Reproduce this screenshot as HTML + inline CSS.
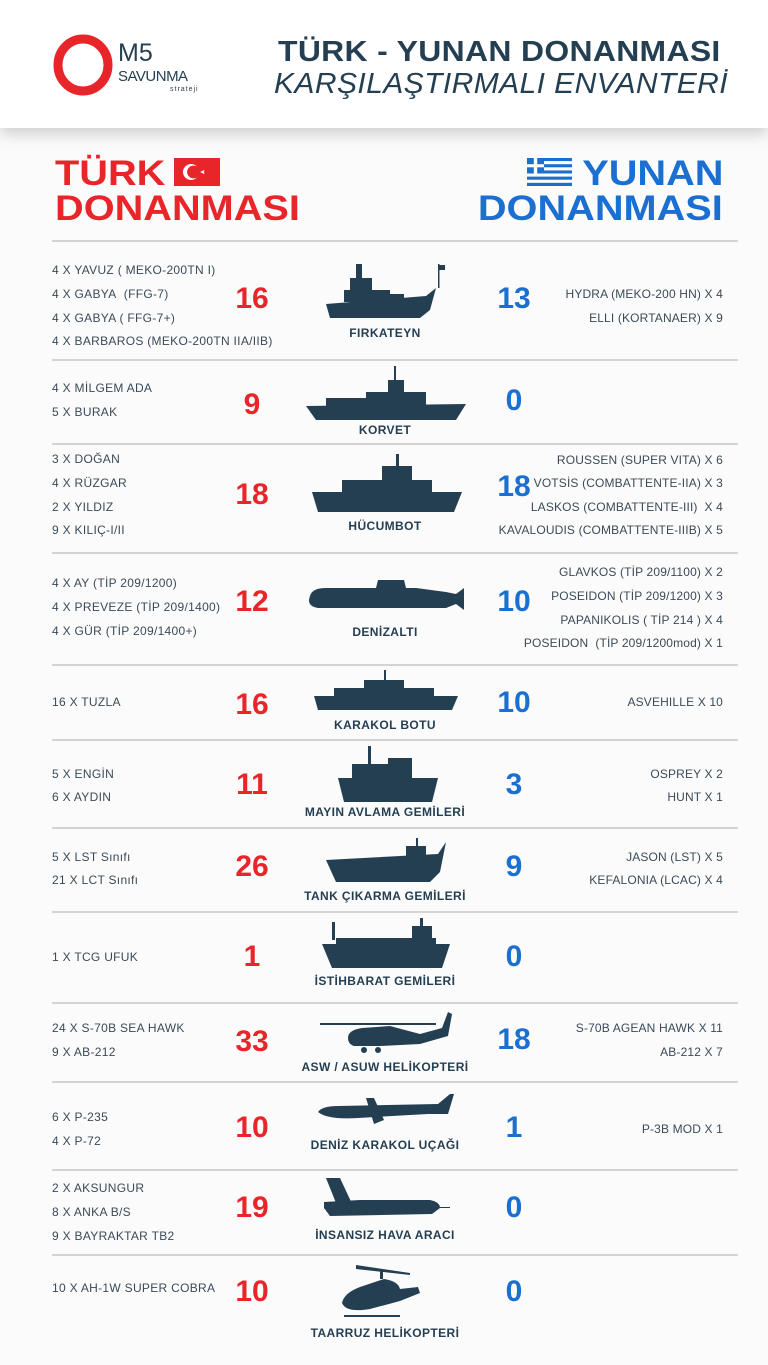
<!DOCTYPE html>
<html><head><meta charset="utf-8"><style>
*{margin:0;padding:0;box-sizing:border-box}
body{width:768px;height:1365px;position:relative;background:#fbfbfb;font-family:"Liberation Sans",sans-serif;overflow:hidden;color:#2c3f50}
.hdr{position:absolute;left:0;top:0;width:768px;height:128px;background:#fff;box-shadow:0 6px 14px rgba(0,0,0,.18)}
.a{position:absolute;white-space:nowrap}
.l{position:absolute;left:52px;font-size:12px;line-height:16px;color:#3a4a58;letter-spacing:0.3px;white-space:nowrap}
.r{position:absolute;right:45px;font-size:12px;line-height:16px;color:#3a4a58;text-align:right;letter-spacing:0.15px;white-space:nowrap}
.nr{position:absolute;width:60px;left:222px;text-align:center;font-size:30px;font-weight:bold;color:#e8262a;line-height:30px}
.nb{position:absolute;width:60px;left:484px;text-align:center;font-size:30px;font-weight:bold;color:#1a6fd1;line-height:30px}
.lab{position:absolute;left:265px;width:240px;text-align:center;font-size:12px;font-weight:bold;color:#253f52;line-height:14px;letter-spacing:0.4px}
.sep{position:absolute;left:52px;width:686px;height:2px;background:#d4d4d4}
svg.ic{position:absolute;fill:#253f52}
.bl{transform:scaleX(1.135);transform-origin:left}
.br{transform:scaleX(1.135);transform-origin:right}
</style></head><body>
<div class="hdr"></div>
<svg class="a" style="left:52px;top:34px" width="62" height="62"><ellipse cx="31" cy="31" rx="25" ry="26" fill="none" stroke="#e8262a" stroke-width="9"/></svg>
<div class="a" style="left:118px;top:40px;font-size:25px;color:#253f52;line-height:26px">M5</div>
<div class="a" style="left:118px;top:69px;font-size:15px;color:#253f52;line-height:16px;letter-spacing:-0.5px">SAVUNMA</div>
<div class="a" style="left:170px;top:86px;font-size:7px;color:#253f52;letter-spacing:1px">strateji</div>
<div class="a" style="left:278px;top:36px;font-size:29px;font-weight:bold;color:#253f52;line-height:32px;letter-spacing:0.3px;transform:scaleX(1.1);transform-origin:left">TÜRK - YUNAN DONANMASI</div>
<div class="a" style="left:274px;top:68px;font-size:29px;font-style:italic;color:#253f52;line-height:32px;letter-spacing:0.4px;transform:scaleX(1.035);transform-origin:left">KARŞILAŞTIRMALI ENVANTERİ</div>

<div class="a bl" style="left:55px;top:155px;font-size:35px;font-weight:bold;color:#e8262a;line-height:38px">TÜRK</div>
<div class="a" style="left:174px;top:158px;width:46px;height:28px;background:#e8262a"><svg width="46" height="28"><circle cx="17" cy="14" r="8" fill="#fff"/><circle cx="19.5" cy="14" r="6.4" fill="#e8262a"/><polygon points="26,14 30.5,12 29,16.5 29,11.5 30.5,16" fill="#fff"/></svg></div>
<div class="a bl" style="left:55px;top:190px;font-size:35px;font-weight:bold;color:#e8262a;line-height:38px">DONANMASI</div>
<svg class="a" style="left:527px;top:158px" width="45" height="28"><rect width="45" height="28" fill="#1a6fd1"/><g fill="#fff"><rect y="3.1" width="45" height="3.1"/><rect y="9.3" width="45" height="3.1"/><rect y="15.5" width="45" height="3.1"/><rect y="21.7" width="45" height="3.1"/></g><rect width="17" height="15.5" fill="#1a6fd1"/><rect x="6.8" width="3.4" height="15.5" fill="#fff"/><rect y="6.2" width="17" height="3.1" fill="#fff"/></svg>
<div class="a br" style="right:45px;top:155px;font-size:35px;font-weight:bold;color:#1a6fd1;line-height:38px">YUNAN</div>
<div class="a br" style="right:45px;top:190px;font-size:35px;font-weight:bold;color:#1a6fd1;line-height:38px">DONANMASI</div>

<div class="sep" style="top:240px"></div>
<div class="sep" style="top:359px"></div>
<div class="sep" style="top:443px"></div>
<div class="sep" style="top:552px"></div>
<div class="sep" style="top:664px"></div>
<div class="sep" style="top:739px"></div>
<div class="sep" style="top:827px"></div>
<div class="sep" style="top:911px"></div>
<div class="sep" style="top:1002px"></div>
<div class="sep" style="top:1081px"></div>
<div class="sep" style="top:1169px"></div>
<div class="sep" style="top:1254px"></div>

<div class="l" style="top:262px">4 X YAVUZ ( MEKO-200TN I)</div>
<div class="l" style="top:286px">4 X GABYA&nbsp; (FFG-7)</div>
<div class="l" style="top:310px">4 X GABYA ( FFG-7+)</div>
<div class="l" style="top:333px">4 X BARBAROS (MEKO-200TN IIA/IIB)</div>
<div class="nr" style="top:284px">16</div><div class="nb" style="top:284px">13</div>
<div class="r" style="top:286px">HYDRA (MEKO-200 HN) X 4</div>
<div class="r" style="top:310px">ELLI (KORTANAER) X 9</div>
<svg class="ic" style="left:326px;top:262px" width="120" height="56" viewBox="0 0 120 56"><polygon points="0,42 100,34 110,26 104,48 94,56 4,56"/><rect x="18" y="28" width="46" height="12"/><rect x="24" y="16" width="22" height="14"/><rect x="30" y="2" width="6" height="16"/><rect x="60" y="32" width="18" height="6"/><rect x="112" y="2" width="1.5" height="24"/><rect x="113" y="3" width="6" height="5"/></svg>
<div class="lab" style="top:326px">FIRKATEYN</div>

<div class="l" style="top:380px">4 X MİLGEM ADA</div>
<div class="l" style="top:404px">5 X BURAK</div>
<div class="nr" style="top:390px">9</div><div class="nb" style="top:386px">0</div>
<svg class="ic" style="left:306px;top:366px" width="160" height="54" viewBox="0 0 160 54"><polygon points="0,40 160,38 150,54 10,54"/><rect x="20" y="32" width="60" height="8"/><rect x="60" y="26" width="60" height="14"/><rect x="82" y="14" width="16" height="14"/><rect x="88" y="0" width="2" height="16"/></svg>
<div class="lab" style="top:423px">KORVET</div>

<div class="l" style="top:451px">3 X DOĞAN</div>
<div class="l" style="top:475px">4 X RÜZGAR</div>
<div class="l" style="top:499px">2 X YILDIZ</div>
<div class="l" style="top:522px">9 X KILIÇ-I/II</div>
<div class="nr" style="top:480px">18</div><div class="nb" style="top:472px">18</div>
<div class="r" style="top:452px">ROUSSEN (SUPER VITA) X 6</div>
<div class="r" style="top:475px">VOTSİS (COMBATTENTE-IIA) X 3</div>
<div class="r" style="top:499px">LASKOS (COMBATTENTE-III)&nbsp; X 4</div>
<div class="r" style="top:522px">KAVALOUDIS (COMBATTENTE-IIIB) X 5</div>
<svg class="ic" style="left:312px;top:454px" width="150" height="58" viewBox="0 0 150 58"><polygon points="0,38 150,38 142,58 6,58"/><rect x="30" y="26" width="90" height="14"/><rect x="70" y="12" width="30" height="16"/><rect x="84" y="0" width="3" height="14"/></svg>
<div class="lab" style="top:519px">HÜCUMBOT</div>

<div class="l" style="top:575px">4 X AY (TİP 209/1200)</div>
<div class="l" style="top:599px">4 X PREVEZE (TİP 209/1400)</div>
<div class="l" style="top:623px">4 X GÜR (TİP 209/1400+)</div>
<div class="nr" style="top:587px">12</div><div class="nb" style="top:587px">10</div>
<div class="r" style="top:564px">GLAVKOS (TİP 209/1100) X 2</div>
<div class="r" style="top:588px">POSEIDON (TİP 209/1200) X 3</div>
<div class="r" style="top:612px">PAPANIKOLIS ( TİP 214 ) X 4</div>
<div class="r" style="top:635px">POSEIDON&nbsp; (TİP 209/1200mod) X 1</div>
<svg class="ic" style="left:306px;top:578px" width="158" height="34" viewBox="0 0 158 34"><path d="M4,18 Q0,28 12,30 L140,30 L150,26 L158,32 L158,10 L150,16 L140,14 L110,10 L100,10 L98,2 L72,2 L70,10 L20,10 Q6,10 4,18Z"/></svg>
<div class="lab" style="top:625px">DENİZALTI</div>

<div class="l" style="top:694px">16 X TUZLA</div>
<div class="nr" style="top:690px">16</div><div class="nb" style="top:688px">10</div>
<div class="r" style="top:694px">ASVEHILLE X 10</div>
<svg class="ic" style="left:314px;top:670px" width="144" height="44" viewBox="0 0 144 44"><polygon points="0,26 144,26 138,40 4,40"/><rect x="20" y="18" width="100" height="8"/><rect x="50" y="10" width="40" height="10"/><rect x="70" y="0" width="2" height="12"/></svg>
<div class="lab" style="top:718px">KARAKOL BOTU</div>

<div class="l" style="top:766px">5 X ENGİN</div>
<div class="l" style="top:789px">6 X AYDIN</div>
<div class="nr" style="top:770px">11</div><div class="nb" style="top:770px">3</div>
<div class="r" style="top:766px">OSPREY X 2</div>
<div class="r" style="top:789px">HUNT X 1</div>
<svg class="ic" style="left:338px;top:746px" width="100" height="56" viewBox="0 0 100 56"><polygon points="0,32 100,32 94,56 6,56"/><rect x="14" y="18" width="40" height="16"/><rect x="50" y="12" width="24" height="22"/><rect x="30" y="0" width="3" height="20"/></svg>
<div class="lab" style="top:805px">MAYIN AVLAMA GEMİLERİ</div>

<div class="l" style="top:849px">5 X LST Sınıfı</div>
<div class="l" style="top:872px">21 X LCT Sınıfı</div>
<div class="nr" style="top:852px">26</div><div class="nb" style="top:852px">9</div>
<div class="r" style="top:849px">JASON (LST) X 5</div>
<div class="r" style="top:872px">KEFALONIA (LCAC) X 4</div>
<svg class="ic" style="left:326px;top:838px" width="120" height="44" viewBox="0 0 120 44"><polygon points="0,22 112,16 120,4 114,34 104,44 10,44"/><rect x="80" y="8" width="20" height="14"/><rect x="90" y="0" width="2" height="10"/></svg>
<div class="lab" style="top:889px">TANK ÇIKARMA GEMİLERİ</div>

<div class="l" style="top:949px">1 X TCG UFUK</div>
<div class="nr" style="top:942px">1</div><div class="nb" style="top:942px">0</div>
<svg class="ic" style="left:322px;top:918px" width="128" height="50" viewBox="0 0 128 50"><polygon points="0,26 128,26 120,50 10,50"/><rect x="14" y="20" width="100" height="8"/><rect x="90" y="8" width="20" height="14"/><rect x="98" y="0" width="3" height="10"/><rect x="10" y="4" width="3" height="18"/></svg>
<div class="lab" style="top:974px">İSTİHBARAT GEMİLERİ</div>

<div class="l" style="top:1020px">24 X S-70B SEA HAWK</div>
<div class="l" style="top:1044px">9 X AB-212</div>
<div class="nr" style="top:1027px">33</div><div class="nb" style="top:1025px">18</div>
<div class="r" style="top:1020px">S-70B AGEAN HAWK X 11</div>
<div class="r" style="top:1044px">AB-212 X 7</div>
<svg class="ic" style="left:320px;top:1008px" width="136" height="48" viewBox="0 0 136 48"><rect x="0" y="15" width="116" height="2"/><path d="M28,30 Q28,22 42,20 L70,18 L100,26 L122,20 L128,4 L132,6 L128,28 L100,36 L60,38 L34,38 Q28,36 28,30Z"/><circle cx="44" cy="42" r="3"/><circle cx="58" cy="42" r="3"/></svg>
<div class="lab" style="top:1060px">ASW / ASUW HELİKOPTERİ</div>

<div class="l" style="top:1109px">6 X P-235</div>
<div class="l" style="top:1133px">4 X P-72</div>
<div class="nr" style="top:1113px">10</div><div class="nb" style="top:1113px">1</div>
<div class="r" style="top:1121px">P-3B MOD X 1</div>
<svg class="ic" style="left:318px;top:1094px" width="136" height="34" viewBox="0 0 136 34"><path d="M0,18 Q4,12 20,12 L120,10 L132,0 L136,0 L130,20 L110,20 L40,24 Q10,26 0,18Z"/><polygon points="48,4 56,4 66,26 56,30"/></svg>
<div class="lab" style="top:1138px">DENİZ KARAKOL UÇAĞI</div>

<div class="l" style="top:1180px">2 X AKSUNGUR</div>
<div class="l" style="top:1204px">8 X ANKA B/S</div>
<div class="l" style="top:1228px">9 X BAYRAKTAR TB2</div>
<div class="nr" style="top:1193px">19</div><div class="nb" style="top:1193px">0</div>
<svg class="ic" style="left:320px;top:1178px" width="130" height="46" viewBox="0 0 130 46"><path d="M4,30 L4,24 L40,22 L110,22 Q120,24 120,30 L112,36 L10,38Z"/><polygon points="6,0 20,0 34,30 18,30"/><rect x="120" y="29" width="10" height="1"/></svg>
<div class="lab" style="top:1228px">İNSANSIZ HAVA ARACI</div>

<div class="l" style="top:1280px">10 X AH-1W SUPER COBRA</div>
<div class="nr" style="top:1277px">10</div><div class="nb" style="top:1277px">0</div>
<svg class="ic" style="left:340px;top:1265px" width="90" height="56" viewBox="0 0 90 56"><polygon points="16,0 70,8 70,10 16,4"/><rect x="40" y="4" width="3" height="10"/><path d="M2,38 Q4,28 20,22 L44,14 Q58,16 60,24 L78,22 L80,28 L60,36 L30,44 Q6,48 2,38Z"/><rect x="4" y="50" width="56" height="2"/></svg>
<div class="lab" style="top:1326px">TAARRUZ HELİKOPTERİ</div>
</body></html>
